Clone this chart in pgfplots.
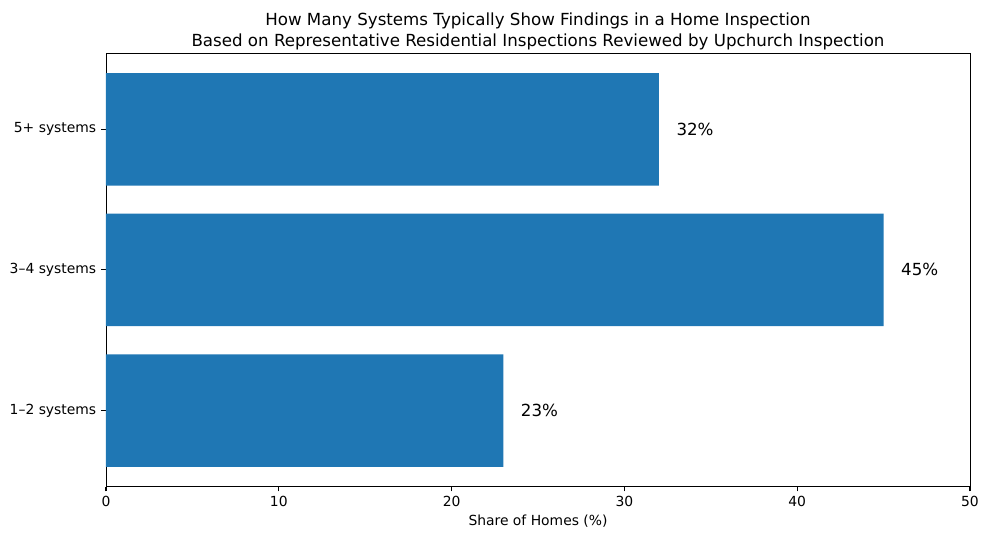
\documentclass[border=0pt]{standalone}
\usepackage{pgfplots}
\pgfplotsset{compat=1.18}
\usepackage{fontspec}
\setmainfont{DejaVu Sans}
\definecolor{mplblue}{HTML}{1F77B4}
\begin{document}
\begin{tikzpicture}
\useasboundingbox (-76.32pt,-38.5pt) rectangle (636.48pt,350.3pt);
\begin{axis}[
  at={(0,0)}, anchor=south west,
  scale only axis, width=622.08pt, height=311.9pt,
  xbar, bar width=0.8,
  xmin=0, xmax=50, ymin=-0.54, ymax=2.54,
  ytick={0,1,2}, yticklabels={1–2 systems,3–4 systems,5+ systems},
  xtick={0,10,20,30,40,50},
  tick align=outside, major tick length=3.5pt,
  every tick/.style={line width=0.8pt, black},
  axis line style={line width=0.7pt},
  tick pos=left,
  font=\fontsize{10}{12}\selectfont,
  tick label style={font=\fontsize{10}{12}\selectfont},
  xlabel={Share of Homes (\%)},
  xlabel style={font=\fontsize{10}{12}\selectfont, yshift=1pt},
  title={How Many Systems Typically Show Findings in a Home Inspection\\Based on Representative Residential Inspections Reviewed by Upchurch Inspection},
  title style={align=center, font=\fontsize{12}{15}\selectfont, at={(0.5,1)}, anchor=south, yshift=-7pt},
  /pgf/number format/assume math mode=true,
  point meta=x,
  nodes near coords={\pgfmathprintnumber{\pgfplotspointmeta}\%},
  nodes near coords style={anchor=west, inner sep=0pt, xshift=12.44pt, font=\fontsize{12}{14.4}\selectfont, black},
]
\addplot[draw=none, fill=mplblue] coordinates {(23,0) (45,1) (32,2)};
\end{axis}
\end{tikzpicture}
\end{document}
